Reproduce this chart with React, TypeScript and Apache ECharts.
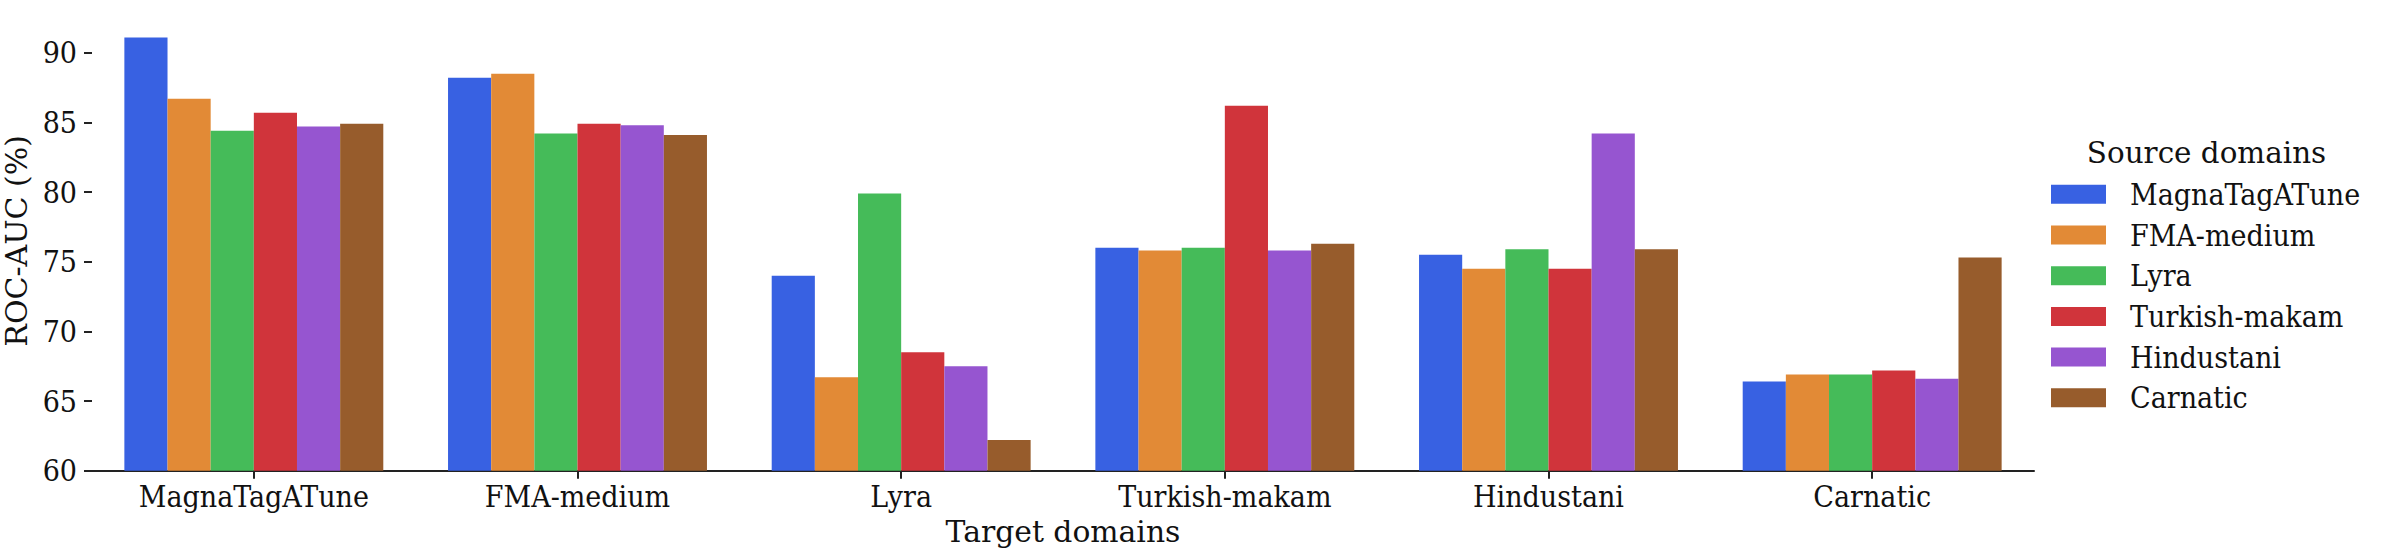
import React, { useEffect, useRef } from "react";
import * as echarts from "echarts";

const targetDomains = ["MagnaTagATune", "FMA-medium", "Lyra", "Turkish-makam", "Hindustani", "Carnatic"];
const sourceDomains = ["MagnaTagATune", "FMA-medium", "Lyra", "Turkish-makam", "Hindustani", "Carnatic"];

const fromMagnaTagATune = [91.1, 88.2, 74.0, 76.0, 75.5, 66.4];
const fromFmaMedium = [86.7, 88.5, 66.7, 75.8, 74.5, 66.9];
const fromLyra = [84.4, 84.2, 79.9, 76.0, 75.9, 66.9];
const fromTurkishMakam = [85.7, 84.9, 68.5, 86.2, 74.5, 67.2];
const fromHindustani = [84.7, 84.8, 67.5, 75.8, 84.2, 66.6];
const fromCarnatic = [84.9, 84.1, 62.2, 76.3, 75.9, 75.3];

const seriesValues = [fromMagnaTagATune, fromFmaMedium, fromLyra, fromTurkishMakam, fromHindustani, fromCarnatic];
const colors = ["#3861E2", "#E28A36", "#45BB59", "#D0343B", "#9655D0", "#975C2C"];
const yTicks = [60, 65, 70, 75, 80, 85, 90];

const FONT = "DejaVu Serif";
const COND = "DejaVu Serif Condensed";

function hasCondensed(): boolean {
  try {
    const ctx = document.createElement("canvas").getContext("2d")!;
    ctx.font = `30px monospace`;
    const a = ctx.measureText("MagnaTagATune").width;
    ctx.font = `30px "${COND}", monospace`;
    const b = ctx.measureText("MagnaTagATune").width;
    return Math.abs(a - b) > 0.5;
  } catch (e) {
    return false;
  }
}

export default function App() {
  const ref = useRef<HTMLDivElement>(null);
  useEffect(() => {
    const cond = hasCondensed();
    const LFAM = cond ? COND : FONT;
    const LF = cond ? 30 : 27;
    const chart = echarts.init(ref.current!, null, { renderer: "svg" });
    chart.setOption({
      animation: false,
      backgroundColor: "#fff",
      textStyle: { fontFamily: FONT },
      grid: { left: 92, right: 353, top: 11, bottom: 84.3, outerBoundsMode: "none", containLabel: false },
      xAxis: {
        type: "category",
        data: targetDomains,
        name: "Target domains",
        nameLocation: "middle",
        nameGap: 38.5,
        nameTextStyle: { fontFamily: FONT, fontSize: 29.8, color: "#111" },
        axisLine: { show: true, lineStyle: { color: "#222", width: 2 } },
        axisTick: { show: true, alignWithLabel: true, length: 8, lineStyle: { color: "#222", width: 2 } },
        axisLabel: { interval: 0, fontFamily: LFAM, fontSize: LF, color: "#111", margin: cond ? 10.4 : 12.5 },
        splitLine: { show: false },
      },
      yAxis: {
        type: "value",
        min: 60,
        max: 93,
        interval: 5,
        name: "ROC-AUC (%)",
        nameLocation: "middle",
        nameGap: 51,
        nameTextStyle: { fontFamily: FONT, fontSize: 30, color: "#111" },
        axisLine: { show: false },
        axisTick: { show: true, length: 8, customValues: yTicks, lineStyle: { color: "#222", width: 2 } },
        axisLabel: { fontFamily: LFAM, fontSize: LF, color: "#111", margin: 15, customValues: yTicks },
        splitLine: { show: false },
      },
      legend: {
        orient: "vertical",
        left: 2046,
        top: 194.3 - 5 - LF / 2,
        itemWidth: 55,
        itemHeight: 19,
        itemGap: 40.7 - LF,
        icon: "rect",
        textStyle: { fontFamily: LFAM, fontSize: LF, color: "#111", padding: [0, 0, 0, 19] },
        data: sourceDomains,
      },
      graphic: [
        {
          type: "text",
          x: 2206.5,
          y: 152.5,
          style: {
            text: "Source domains",
            font: `29.4px "${FONT}"`,
            fill: "#111",
            textAlign: "center",
            textVerticalAlign: "middle",
          },
        },
      ],
      series: sourceDomains.map((name, i) => ({
        name,
        type: "bar",
        data: seriesValues[i],
        barGap: "0%",
        barCategoryGap: "20%",
        itemStyle: { color: colors[i] },
      })),
    });
    return () => chart.dispose();
  }, []);
  return <div ref={ref} style={{ position: "absolute", left: 0, top: 0, width: 2387, height: 555 }} />;
}
